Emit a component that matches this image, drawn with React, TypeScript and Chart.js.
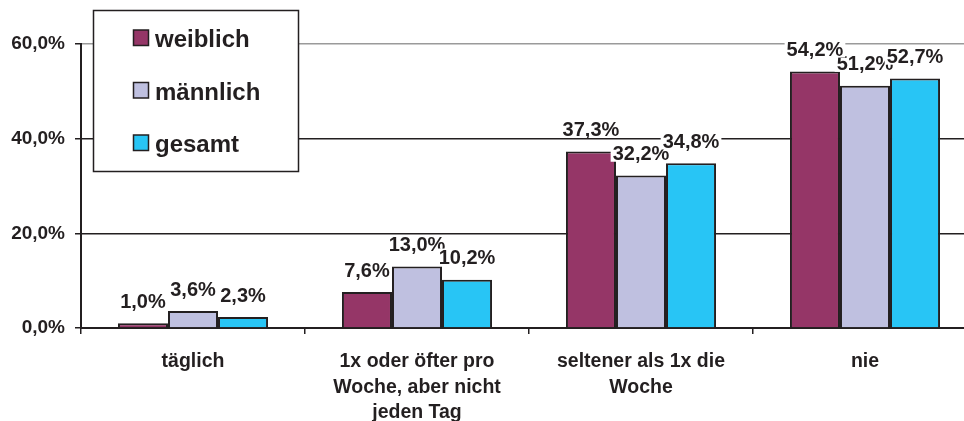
import React, { useEffect, useRef } from "react";
import { Chart, registerables } from "chart.js";

Chart.register(...registerables);

const categories: string[][] = [
  ["täglich"],
  ["1x oder öfter pro", "Woche, aber nicht", "jeden Tag"],
  ["seltener als 1x die", "Woche"],
  ["nie"],
];
const seriesNames = ["weiblich", "männlich", "gesamt"];
const weiblich = [1.0, 7.6, 37.3, 54.2];
const maennlich = [3.6, 13.0, 32.2, 51.2];
const gesamt = [2.3, 10.2, 34.8, 52.7];
const seriesColors = ["#953667", "#bfc0e0", "#28c5f5"];
const yTicks = [0, 20, 40, 60];

const INK = "#231f20";
const FONT = "'Liberation Sans', Arial, sans-serif";

const fmt = (v: number) => v.toFixed(1).replace(".", ",") + "%";

const labelPlugin = {
  id: "valueLabels",
  afterDatasetsDraw(chart: any) {
    const ctx = chart.ctx;
    const size = 20;
    ctx.save();
    ctx.font = `bold ${size}px ${FONT}`;
    ctx.textAlign = "center";
    ctx.textBaseline = "alphabetic";
    const order = [1, 0, 2];
    for (const di of order) {
      const meta = chart.getDatasetMeta(di);
      const data = chart.data.datasets[di].data as number[];
      meta.data.forEach((bar: any, i: number) => {
        const txt = fmt(data[i]);
        const w = ctx.measureText(txt).width;
        const cy = bar.y - 22.5;
        const capH = size * 0.716;
        ctx.fillStyle = "#ffffff";
        ctx.fillRect(bar.x - w / 2 - 2, cy - capH / 2 - 1.5, w + 4, capH + 3);
        ctx.fillStyle = INK;
        ctx.fillText(txt, bar.x, cy + capH / 2);
      });
    }
    ctx.restore();
  },
};

const legendPlugin = {
  id: "boxLegend",
  afterDraw(chart: any) {
    const ctx = chart.ctx;
    ctx.save();
    ctx.fillStyle = "#ffffff";
    ctx.fillRect(93.5, 10.5, 205, 161);
    ctx.strokeStyle = INK;
    ctx.lineWidth = 1.5;
    ctx.strokeRect(93.5, 10.5, 205, 161);
    ctx.font = `bold 24px ${FONT}`;
    ctx.textAlign = "left";
    ctx.textBaseline = "alphabetic";
    seriesNames.forEach((name, i) => {
      const base = 47 + i * 52.5;
      ctx.fillStyle = seriesColors[i];
      ctx.fillRect(133.5, base - 17, 15, 15.5);
      ctx.strokeStyle = INK;
      ctx.lineWidth = 1.5;
      ctx.strokeRect(133.5, base - 17, 15, 15.5);
      ctx.fillStyle = INK;
      ctx.fillText(name, 155, base);
    });
    ctx.restore();
  },
};

export default function App() {
  const ref = useRef<HTMLCanvasElement | null>(null);
  useEffect(() => {
    if (!ref.current) return;
    const chart = new Chart(ref.current, {
      type: "bar",
      data: {
        labels: categories,
        datasets: [weiblich, maennlich, gesamt].map((d, i) => ({
          label: seriesNames[i],
          data: d,
          backgroundColor: seriesColors[i],
          borderColor: INK,
          borderWidth: 2,
          categoryPercentage: 0.67,
          barPercentage: 1,
        })),
      },
      options: {
        animation: false,
        responsive: false,
        devicePixelRatio: 1,
        layout: { padding: { left: 0, right: 13, top: 44, bottom: 0 } },
        plugins: { legend: { display: false }, tooltip: { enabled: false } },
        scales: {
          x: {
            afterFit: (s: any) => {
              s.height = 93;
            },
            grid: {
              offset: true,
              drawOnChartArea: false,
              drawTicks: true,
              tickLength: 6,
              color: INK,
              lineWidth: 1.5,
            },
            border: { display: true, color: INK, width: 2 },
            ticks: {
              color: INK,
              font: { family: FONT, size: 19.5, weight: "bold", lineHeight: 1.31 },
              padding: 15,
              maxRotation: 0,
              autoSkip: false,
            },
          },
          y: {
            min: 0,
            max: 60,
            afterFit: (s: any) => {
              s.width = 81;
            },
            afterBuildTicks: (s: any) => {
              s.ticks = yTicks.map((v) => ({ value: v }));
            },
            grid: {
              color: (c: any) => (c.tick && c.tick.value === 60 ? "#9a9a9a" : INK),
              tickColor: INK,
              lineWidth: 1.5,
              drawTicks: true,
              tickLength: 6,
            },
            border: { display: true, color: INK, width: 2 },
            ticks: {
              color: INK,
              font: { family: FONT, size: 19, weight: "bold" },
              padding: 10,
              callback: (v: any) => fmt(Number(v)),
            },
          },
        },
      },
      plugins: [labelPlugin, legendPlugin],
    });
    return () => chart.destroy();
  }, []);
  return (
    <div
      style={{
        position: "fixed",
        left: 0,
        top: 0,
        width: 964,
        height: 421,
        overflow: "hidden",
        background: "#ffffff",
      }}
    >
      <canvas ref={ref} width={990} height={421} style={{ width: 990, height: 421, display: "block" }} />
    </div>
  );
}
